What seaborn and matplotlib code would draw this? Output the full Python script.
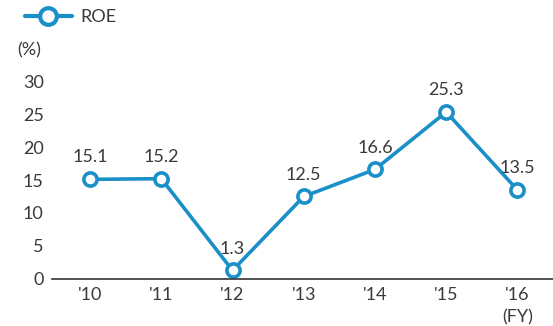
import matplotlib
matplotlib.use("Agg")
import matplotlib.pyplot as plt
import seaborn as sns
import pandas as pd
from matplotlib.lines import Line2D

# Return on equity by fiscal year
years = ["'10", "'11", "'12", "'13", "'14", "'15", "'16"]
roe = [15.1, 15.2, 1.3, 12.5, 16.6, 25.3, 13.5]
y_ticks = [0, 5, 10, 15, 20, 25, 30]

sns.set_theme(style="white")
plt.rcParams["font.family"] = ["Lato", "DejaVu Sans"]

BLUE = "#1a8fc8"
TEXT = "#3a3a3a"

df = pd.DataFrame({"idx": range(len(years)), "year": years, "roe": roe})

fig = plt.figure(figsize=(5.53, 3.26), dpi=100)
ax = fig.add_axes([0.094, 0.1442, 0.906, 0.6073])

sns.lineplot(data=df, x="idx", y="roe", ax=ax, color=BLUE, linewidth=2.6,
             marker="o", markersize=9.5, markerfacecolor="white",
             markeredgecolor=BLUE, markeredgewidth=2.6, clip_on=False)

for i, v in zip(df["idx"], df["roe"]):
    ax.annotate(f"{v}", (i, v), xytext=(0, 10), textcoords="offset points",
                ha="center", va="bottom", fontsize=13, color=TEXT)

ax.set_xlim(-0.535, 6.5)
ax.set_ylim(0, 30)
ax.set_xticks(df["idx"])
ax.set_xticklabels(years)
ax.set_yticks(y_ticks)
ax.tick_params(axis="both", length=0, labelsize=13, labelcolor=TEXT)
ax.tick_params(axis="x", pad=6)
ax.tick_params(axis="y", pad=6)
ax.set_xlabel("")
ax.set_ylabel("")

for s in ["top", "right", "left"]:
    ax.spines[s].set_visible(False)
ax.spines["bottom"].set_color("#333333")
ax.spines["bottom"].set_linewidth(1.2)

fig.text(0.032, 0.845, "(%)", fontsize=13, color=TEXT, va="center")
ax.annotate("(FY)", xy=(6, 0), xytext=(0, -21.5), textcoords="offset points",
            ha="center", va="top", fontsize=13, color=TEXT, annotation_clip=False)

handle = Line2D([], [], color=BLUE, linewidth=3.0, marker="o", markersize=12,
                markerfacecolor="white", markeredgecolor=BLUE, markeredgewidth=3.0)
fig.legend([handle], ["ROE"], loc="center left", bbox_to_anchor=(0.045, 0.948),
           frameon=False, fontsize=13, handlelength=2.6, handletextpad=0.5,
           labelcolor=TEXT, borderaxespad=0, borderpad=0)

fig.savefig("out.png", dpi=100)
